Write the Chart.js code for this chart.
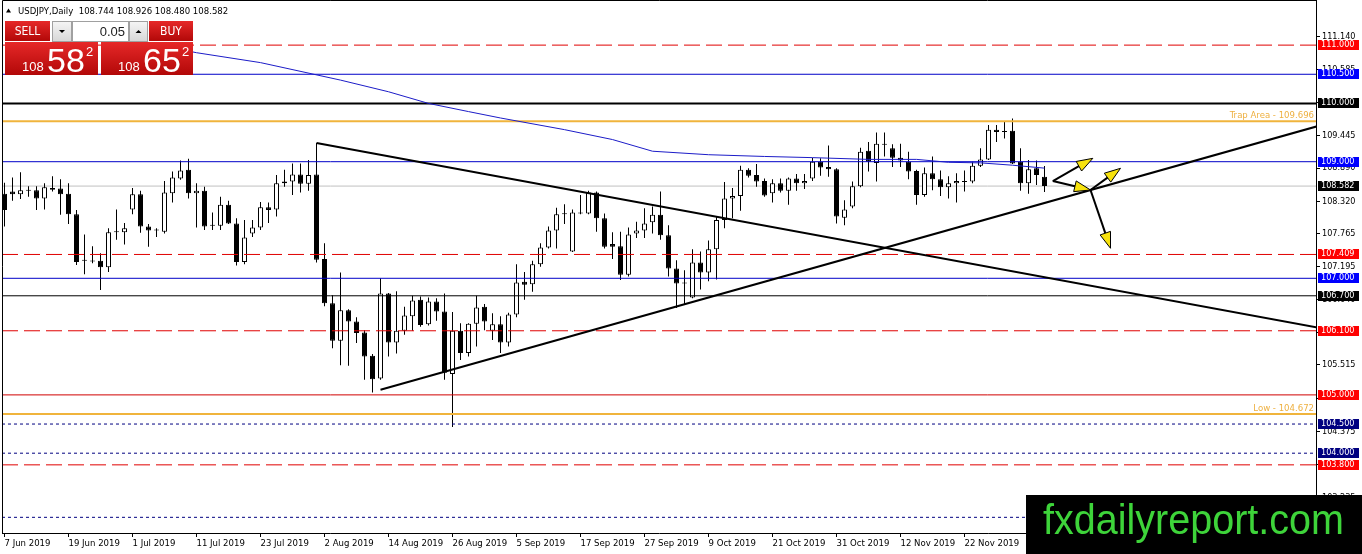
<!DOCTYPE html>
<html>
<head>
<meta charset="utf-8">
<title>USDJPY Daily</title>
<script src="https://cdn.jsdelivr.net/npm/chart.js@4.4.1/dist/chart.umd.min.js"></script>
<style>
  html, body { margin: 0; padding: 0; background: #fff; }
  #wrap { width: 1362px; height: 554px; }
</style>
</head>
<body>
<div id="wrap"><canvas id="chart" width="1362" height="554"></canvas></div>
<script>
// date labels every 8 daily bars, first one on bar 0
var tickLabels = ['7 Jun 2019', '19 Jun 2019', '1 Jul 2019', '11 Jul 2019', '23 Jul 2019', '2 Aug 2019',
  '14 Aug 2019', '26 Aug 2019', '5 Sep 2019', '17 Sep 2019', '27 Sep 2019', '9 Oct 2019',
  '21 Oct 2019', '31 Oct 2019', '12 Nov 2019', '22 Nov 2019'];
var tickStep = 8;

var opens = [108.45, 108.49, 108.44, 108.50, 108.51, 108.37, 108.55, 108.54, 108.45, 108.10,
  107.31, 107.29, 107.30, 107.19, 107.79, 107.79, 108.18, 108.44, 107.89, 107.82,
  107.80, 108.46, 108.71, 108.86, 108.46, 108.50, 107.91, 107.90, 108.26, 107.94,
  107.28, 107.77, 107.87, 108.22, 108.18, 108.63, 108.66, 108.78, 108.62, 108.78,
  107.33, 106.57, 105.93, 106.45, 106.26, 106.07, 105.67, 105.28, 106.74, 105.90,
  106.10, 106.35, 106.63, 106.21, 106.60, 106.43, 105.36, 106.10, 105.72, 106.22,
  106.51, 106.10, 106.21, 105.90, 106.38, 106.94, 106.90, 107.24, 107.53, 107.82,
  108.10, 107.46, 108.13, 108.11, 108.47, 108.03, 107.59, 107.55, 107.06, 107.77,
  107.82, 107.96, 108.09, 107.74, 107.17, 106.92, 106.67, 107.27, 107.10, 107.50,
  108.00, 108.37, 108.41, 108.86, 108.77, 108.67, 108.46, 108.63, 108.50, 108.71,
  108.63, 108.71, 109.00, 108.91, 108.87, 108.04, 108.23, 108.58, 109.19, 108.98,
  109.31, 109.23, 109.07, 109.00, 108.84, 108.43, 108.80, 108.70, 108.56, 108.63,
  108.67, 108.66, 108.93, 109.04, 109.55, 109.52, 109.53, 109.00, 108.63, 108.89,
  108.744];
var highs = [108.64, 108.73, 108.82, 108.58, 108.58, 108.63, 108.75, 108.70, 108.63, 108.17,
  107.75, 107.55, 107.43, 107.86, 108.18, 107.95, 108.55, 108.50, 107.93, 107.86,
  108.67, 108.83, 109.02, 109.05, 108.63, 108.57, 108.13, 108.40, 108.33, 108.03,
  108.00, 108.00, 108.31, 108.30, 108.77, 108.86, 108.97, 108.97, 109.03, 109.32,
  107.60, 106.71, 107.10, 106.47, 106.33, 106.11, 105.70, 107.00, 106.75, 106.78,
  106.51, 106.70, 106.69, 106.67, 106.66, 106.74, 106.42, 106.23, 106.23, 106.70,
  106.56, 106.40, 106.35, 106.41, 107.24, 107.11, 107.30, 107.60, 107.89, 108.21,
  108.27, 108.18, 108.43, 108.50, 108.49, 108.11, 107.79, 107.80, 107.87, 107.97,
  108.20, 108.23, 108.49, 107.91, 107.31, 107.14, 107.50, 107.46, 107.65, 108.06,
  108.65, 108.55, 108.93, 108.89, 108.96, 108.71, 108.70, 108.71, 108.73, 108.79,
  108.79, 109.07, 109.06, 109.28, 108.89, 108.34, 108.66, 109.24, 109.34, 109.50,
  109.50, 109.30, 109.31, 109.17, 108.86, 108.90, 109.09, 108.85, 108.75, 108.80,
  108.85, 109.00, 109.23, 109.63, 109.63, 109.69, 109.74, 109.23, 109.03, 109.02,
  108.926];
var lows = [107.89, 108.33, 108.36, 108.40, 108.17, 108.18, 108.49, 108.09, 107.93, 107.23,
  107.07, 107.26, 106.80, 107.11, 107.66, 107.58, 108.10, 107.78, 107.54, 107.71,
  107.77, 108.30, 108.69, 108.37, 107.87, 107.83, 107.83, 107.83, 107.93, 107.22,
  107.24, 107.71, 107.83, 107.95, 108.06, 108.57, 108.43, 108.47, 108.50, 107.27,
  106.52, 105.80, 105.51, 105.50, 105.89, 105.26, 105.04, 105.26, 105.66, 105.71,
  106.03, 106.10, 106.17, 106.19, 106.27, 105.26, 104.45, 105.60, 105.66, 105.83,
  106.11, 105.94, 105.72, 105.83, 106.33, 106.63, 106.77, 107.20, 107.51, 107.51,
  107.93, 107.45, 108.10, 108.10, 107.80, 107.51, 107.33, 106.97, 107.03, 107.69,
  107.69, 107.77, 107.66, 107.03, 106.49, 106.54, 106.66, 106.81, 106.95, 106.98,
  107.86, 108.03, 108.16, 108.73, 108.57, 108.40, 108.30, 108.47, 108.26, 108.50,
  108.53, 108.67, 108.76, 108.74, 107.94, 107.91, 108.20, 108.56, 108.83, 108.66,
  109.09, 108.91, 108.91, 108.70, 108.26, 108.40, 108.51, 108.41, 108.37, 108.30,
  108.49, 108.63, 108.91, 109.03, 109.34, 109.40, 108.96, 108.50, 108.45, 108.60,
  108.480];
var closes = [108.17, 108.44, 108.51, 108.51, 108.37, 108.56, 108.52, 108.44, 108.10, 107.28,
  107.30, 107.30, 107.19, 107.79, 107.80, 107.86, 108.44, 107.89, 107.82, 107.83,
  108.47, 108.73, 108.85, 108.46, 108.50, 107.89, 107.90, 108.26, 107.94, 107.28,
  107.70, 107.87, 108.22, 108.17, 108.63, 108.66, 108.78, 108.62, 108.77, 107.32,
  106.57, 105.93, 106.45, 106.26, 106.06, 105.66, 105.27, 106.74, 105.90, 106.10,
  106.36, 106.62, 106.20, 106.60, 106.43, 105.38, 106.10, 105.72, 106.22, 106.50,
  106.26, 106.21, 105.90, 106.38, 106.93, 106.89, 107.24, 107.53, 107.82, 108.10,
  108.11, 108.13, 108.11, 108.47, 108.03, 107.54, 107.54, 107.06, 107.75, 107.82,
  107.94, 108.09, 107.74, 107.17, 106.91, 106.91, 107.27, 107.10, 107.50, 108.00,
  108.37, 108.41, 108.86, 108.76, 108.66, 108.42, 108.63, 108.50, 108.71, 108.63,
  108.67, 109.00, 108.90, 108.87, 108.06, 108.18, 108.58, 109.17, 109.00, 109.31,
  109.29, 109.07, 109.02, 108.83, 108.43, 108.80, 108.70, 108.56, 108.63, 108.67,
  108.65, 108.93, 109.04, 109.55, 109.51, 109.51, 108.97, 108.63, 108.87, 108.77,
  108.582];

// moving average read at a few bars
var maBars = [20, 24, 32, 42, 48, 53, 58, 62, 70, 76, 81, 88, 95, 101, 108, 114, 118, 122, 126, 130];
var maValues = [110.98, 110.87, 110.70, 110.40, 110.20, 110.00, 109.86, 109.75, 109.55, 109.38,
  109.18, 109.12, 109.09, 109.07, 109.04, 109.04, 108.99, 108.98, 108.94, 108.89];

// price scale labels (MT4 picks them by pixel, so they are not round)
var yTicks = [111.140, 110.585, 110.015, 109.445, 108.890, 108.320, 107.765, 107.195,
  106.640, 106.070, 105.515, 104.945, 104.375, 103.805, 103.235];

// horizontal levels drawn on the chart
var levels = [111.000, 110.500, 110.000, 109.696, 109.000, 108.582, 107.409, 107.000,
  106.700, 106.100, 105.000, 104.672, 104.500, 104.000, 103.800, 102.900];
var levelKinds = ['redDash', 'blue', 'black', 'orange', 'blue', 'bid', 'redDash', 'blue',
  'blackThin', 'redDash', 'red', 'orange', 'navyDot', 'navyDot', 'redDash', 'navyDot'];
var levelNotes = ['', '', '', 'Trap Area - 109.696', '', '', '', '', '', '', '', 'Low - 104.672', '', '', '', ''];

// trend lines as [bar, price] pairs
var trendDown = [[39, 109.32], [164, 106.16]];
var trendUp = [[47, 105.088], [164, 109.604]];

// arrows: from bar, from price, to bar, to price
var arrows = [
  [131.04, 108.669, 136.04, 109.058],
  [131.04, 108.669, 135.75, 108.515],
  [135.75, 108.515, 139.5, 108.887],
  [135.75, 108.515, 138.25, 107.515]
];

var symbolLine = 'USDJPY,Daily  108.744 108.926 108.480 108.582';
var lotSize = '0.05';
var bidQuote = ['108', '58', '2'];
var askQuote = ['108', '65', '2'];
var logoText = 'fxdailyreport.com';

var FONT = "'DejaVu Sans Condensed', 'DejaVu Sans', sans-serif";
var X_MIN = -0.3125, X_MAX = 163.9375;
var Y_MIN = 102.631, Y_MAX = 111.774;

var STYLES = {
  redDash:   { color: '#e00000', width: 1, dash: [16, 6], box: '#ff0000' },
  red:       { color: '#d00000', width: 1, dash: [], box: '#ff0000' },
  blue:      { color: '#0000c8', width: 1, dash: [], box: '#0000ff' },
  black:     { color: '#000000', width: 2, dash: [], box: '#000000' },
  blackThin: { color: '#000000', width: 1, dash: [], box: '#000000' },
  bid:       { color: '#c0c0c0', width: 1, dash: [], box: '#000000' },
  orange:    { color: '#f0b43c', width: 2, dash: [], box: null },
  navyDot:   { color: '#000080', width: 1, dash: [3, 3], box: '#000080' }
};

var bodies = [], wicks = [], bodyFill = [];
for (var i = 0; i < opens.length; i++) {
  wicks.push({ x: i, y: [lows[i], highs[i]] });
  bodies.push({ x: i, y: [Math.min(opens[i], closes[i]), Math.max(opens[i], closes[i])] });
  bodyFill.push(closes[i] >= opens[i] ? '#ffffff' : '#000000');
}

var datasets = [
  { type: 'bar', data: bodies, backgroundColor: bodyFill, borderColor: '#000', borderWidth: 1,
    borderSkipped: false, barThickness: 5, minBarLength: 1, grouped: false, inflateAmount: 0, order: 3 },
  { type: 'bar', data: wicks, backgroundColor: '#000', borderWidth: 0,
    barThickness: 1, grouped: false, inflateAmount: 0, order: 4 }
];
levels.forEach(function(v, k) {
  var st = STYLES[levelKinds[k]];
  datasets.push({ type: 'line', data: [{ x: X_MIN, y: v }, { x: X_MAX, y: v }],
    borderColor: st.color, borderWidth: st.width, borderDash: st.dash,
    pointRadius: 0, fill: false, order: levelKinds[k] === 'bid' ? 5 : 2 });
});
datasets.push({ type: 'line', data: maBars.map(function(b, k) { return { x: b, y: maValues[k] }; }),
  borderColor: '#1c1cc8', borderWidth: 1, pointRadius: 0, fill: false, order: 1 });
[trendDown, trendUp].forEach(function(t) {
  datasets.push({ type: 'line', data: t.map(function(p) { return { x: p[0], y: p[1] }; }),
    borderColor: '#000', borderWidth: 2, pointRadius: 0, fill: false, order: 0 });
});

function drawArrow(ctx, x0, y0, x1, y1) {
  var a = Math.atan2(y1 - y0, x1 - x0), L = 16, W = 5.5;
  var bx = x1 - L * Math.cos(a), by = y1 - L * Math.sin(a);
  ctx.strokeStyle = '#000';
  ctx.lineWidth = 2;
  ctx.beginPath(); ctx.moveTo(x0, y0); ctx.lineTo(bx, by); ctx.stroke();
  ctx.beginPath();
  ctx.moveTo(x1, y1);
  ctx.lineTo(bx + W * Math.sin(a), by - W * Math.cos(a));
  ctx.lineTo(bx - W * Math.sin(a), by + W * Math.cos(a));
  ctx.closePath();
  ctx.fillStyle = '#f7e20c';
  ctx.fill();
  ctx.lineWidth = 1;
  ctx.stroke();
}

function redFill(ctx, y0, y1) {
  var g = ctx.createLinearGradient(0, y0, 0, y1);
  g.addColorStop(0, '#e62828');
  g.addColorStop(1, '#b20808');
  return g;
}

function greyButton(ctx, x, y, w, h, up) {
  var g = ctx.createLinearGradient(0, y, 0, y + h);
  g.addColorStop(0, '#f6f6f6');
  g.addColorStop(1, '#d6d6d6');
  ctx.fillStyle = g;
  ctx.fillRect(x, y, w, h);
  ctx.strokeStyle = '#a0a0a0';
  ctx.lineWidth = 1;
  ctx.strokeRect(x + 0.5, y + 0.5, w - 1, h - 1);
  var cx = x + w / 2, cy = y + h / 2;
  ctx.fillStyle = '#000';
  ctx.beginPath();
  if (up) { ctx.moveTo(cx - 3, cy + 1.5); ctx.lineTo(cx + 3, cy + 1.5); ctx.lineTo(cx, cy - 1.5); }
  else { ctx.moveTo(cx - 3, cy - 1.5); ctx.lineTo(cx + 3, cy - 1.5); ctx.lineTo(cx, cy + 1.5); }
  ctx.closePath();
  ctx.fill();
}

function quoteBox(ctx, x, w, q) {
  ctx.fillStyle = redFill(ctx, 42, 75);
  ctx.fillRect(x, 42, w, 33);
  ctx.fillStyle = '#fff';
  ctx.textBaseline = 'alphabetic';
  ctx.textAlign = 'left';
  ctx.font = '13px "Liberation Sans", Arial, sans-serif';
  ctx.fillText(q[0], x + 17, 71);
  ctx.font = '34px "Liberation Sans", Arial, sans-serif';
  ctx.fillText(q[1], x + 42, 72);
  ctx.font = '13px "Liberation Sans", Arial, sans-serif';
  ctx.fillText(q[2], x + 81, 56);
}

var decor = {
  id: 'decor',
  beforeDraw: function(chart) {
    var ctx = chart.ctx;
    ctx.save();
    ctx.fillStyle = '#fff';
    ctx.fillRect(0, 0, chart.width, chart.height);
    ctx.restore();
  },
  afterDatasetsDraw: function(chart) {
    var ctx = chart.ctx, xs = chart.scales.x, ys = chart.scales.y, a = chart.chartArea;
    ctx.save();
    ctx.font = '9.5px ' + FONT;
    ctx.fillStyle = '#eeb040';
    ctx.textAlign = 'right';
    ctx.textBaseline = 'alphabetic';
    levels.forEach(function(v, k) {
      if (levelNotes[k]) ctx.fillText(levelNotes[k], a.right - 2, ys.getPixelForValue(v) - 3);
    });
    arrows.forEach(function(r) {
      drawArrow(ctx, xs.getPixelForValue(r[0]), ys.getPixelForValue(r[1]),
        xs.getPixelForValue(r[2]), ys.getPixelForValue(r[3]));
    });
    ctx.strokeStyle = '#000';
    ctx.lineWidth = 1;
    ctx.beginPath();
    ctx.moveTo(a.left + 0.5, a.bottom);
    ctx.lineTo(a.left + 0.5, a.top + 0.5);
    ctx.lineTo(a.right, a.top + 0.5);
    ctx.stroke();
    ctx.restore();
  },
  afterDraw: function(chart) {
    var ctx = chart.ctx, ys = chart.scales.y, a = chart.chartArea;
    ctx.save();

    // coloured price tags on the price scale
    ctx.font = '9px ' + FONT;
    ctx.textBaseline = 'middle';
    ctx.textAlign = 'left';
    levels.forEach(function(v, k) {
      var st = STYLES[levelKinds[k]];
      if (!st.box) return;
      var py = Math.round(ys.getPixelForValue(v));
      ctx.fillStyle = st.box;
      ctx.fillRect(a.right + 2, py - 5, 41, 10);
      ctx.fillStyle = '#fff';
      ctx.fillText(v.toFixed(3), a.right + 5, py);
    });

    // symbol header
    ctx.fillStyle = '#000';
    ctx.beginPath();
    ctx.moveTo(6, 12.5); ctx.lineTo(11, 12.5); ctx.lineTo(8.5, 8.5);
    ctx.closePath();
    ctx.fill();
    ctx.font = '9.5px ' + FONT;
    ctx.textBaseline = 'alphabetic';
    ctx.fillText(symbolLine, 18, 14);

    // one-click trading panel
    ctx.fillStyle = redFill(ctx, 21, 41);
    ctx.fillRect(5, 21, 45, 20);
    ctx.fillRect(149, 21, 44, 20);
    ctx.fillStyle = '#fff';
    ctx.font = '12px ' + FONT;
    ctx.textAlign = 'center';
    ctx.textBaseline = 'middle';
    ctx.fillText('SELL', 27.5, 31.5);
    ctx.fillText('BUY', 171, 31.5);
    greyButton(ctx, 52, 21, 20, 21, false);
    greyButton(ctx, 129, 21, 19, 21, true);
    ctx.fillStyle = '#fff';
    ctx.fillRect(72, 21, 57, 21);
    ctx.strokeStyle = '#a0a0a0';
    ctx.strokeRect(72.5, 21.5, 56, 20);
    ctx.fillStyle = '#202020';
    ctx.textAlign = 'right';
    ctx.font = '13px "Liberation Sans", Arial, sans-serif';
    ctx.fillText(lotSize, 125, 32);
    quoteBox(ctx, 5, 93, bidQuote);
    quoteBox(ctx, 101, 92, askQuote);

    // logo
    ctx.fillStyle = '#000';
    ctx.fillRect(1026, 495, 336, 59);
    ctx.font = '42px "Liberation Sans", Arial, sans-serif';
    ctx.textAlign = 'left';
    ctx.textBaseline = 'alphabetic';
    var w = ctx.measureText(logoText).width;
    ctx.translate(1043, 534);
    ctx.scale(301 / w, 1);
    ctx.fillStyle = '#3ed43a';
    ctx.fillText(logoText, 0, 0);
    ctx.restore();
  }
};

Chart.defaults.font.family = FONT;
Chart.defaults.font.size = 9;
Chart.defaults.color = '#000';

new Chart(document.getElementById('chart'), {
  type: 'bar',
  data: { datasets: datasets },
  options: {
    responsive: false,
    devicePixelRatio: 1,
    animation: false,
    layout: { padding: { left: 2, top: 0, right: 0, bottom: 0 } },
    plugins: { legend: { display: false }, tooltip: { enabled: false } },
    scales: {
      x: {
        type: 'linear', min: X_MIN, max: X_MAX, offset: false,
        grid: { display: true, drawOnChartArea: false, drawTicks: true, tickLength: 4, color: '#000', offset: false },
        border: { display: true, color: '#000' },
        ticks: { align: 'start', padding: 1, maxRotation: 0, autoSkip: false, font: { size: 9.5 },
          callback: function(v, idx) { return tickLabels[idx]; } },
        afterBuildTicks: function(s) {
          s.ticks = tickLabels.map(function(t, k) { return { value: k * tickStep }; });
        },
        afterFit: function(s) { s.height = 21; s.paddingLeft = 0; s.paddingRight = 0; }
      },
      y: {
        type: 'linear', position: 'right', min: Y_MIN, max: Y_MAX,
        grid: { display: true, drawOnChartArea: false, drawTicks: true, tickLength: 4, color: '#000' },
        border: { display: true, color: '#000' },
        ticks: { padding: 2, autoSkip: false, callback: function(v) { return v.toFixed(3); } },
        afterBuildTicks: function(s) {
          s.ticks = yTicks.map(function(v) { return { value: v }; });
        },
        afterFit: function(s) { s.width = 46; s.paddingTop = 0; s.paddingBottom = 0; }
      }
    }
  },
  plugins: [decor]
});
</script>
</body>
</html>
